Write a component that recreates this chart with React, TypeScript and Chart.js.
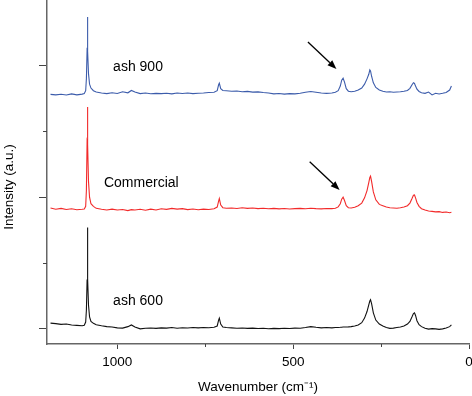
import React, { useEffect, useRef } from "react";
import { Chart, registerables } from "chart.js";

Chart.register(...registerables);

// Raman shift (cm-1), shared by all three spectra
const WAVENUMBER = [
  1190, 1175, 1160, 1145, 1130, 1115, 1100, 1094, 1090, 1088,
  1086, 1085, 1084, 1082, 1079, 1075, 1068, 1060, 1045, 1030,
  1015, 1000, 985, 970, 960, 950, 935, 920, 905, 890,
  875, 860, 845, 830, 815, 800, 785, 770, 755, 740,
  725, 716, 712, 710, 706, 700, 690, 675, 660, 645,
  630, 615, 600, 585, 570, 555, 540, 525, 510, 495,
  480, 465, 450, 435, 420, 405, 390, 380, 372, 366,
  362, 358, 354, 349, 343, 335, 325, 315, 305, 297,
  290, 285, 282, 280, 277, 272, 265, 255, 245, 235,
  225, 215, 205, 195, 185, 175, 168, 162, 158, 155,
  152, 148, 142, 135, 125, 115, 105, 95, 85, 75,
  65, 55, 50,
];

// Raw intensities (a.u.) before vertical offset
const ASH_600 = [
  4.2, 3.8, 3.2, 3.5, 2.8, 2.5, 2.2, 2.6, 5, 14,
  37, 77, 38, 18, 9, 5.5, 4, 3, 2.2, 1.5,
  1.2, 0.6, 0.4, 1.5, 2.8, 1.2, -0.2, 0.3, 0.5, 0.2,
  0.6, 0.4, 0.8, 0.3, 0.7, 0.5, 0.9, 0.6, 0.8, 0.7,
  1.0, 2.0, 6.5, 8, 3.5, 1.2, 0.8, 0.6, 0.3, 0.5,
  0.2, 0.4, 0.1, 0.3, -0.1, 0.2, 0.0, 0.3, 0.1, 0.4,
  0.3, 0.8, 1.5, 1.0, 0.6, 0.8, 0.6, 0.8, 0.9, 1.0,
  1.1, 1.2, 1.2, 1.2, 1.3, 1.5, 2.0, 2.8, 4.5, 8,
  13, 18, 21, 22, 19, 12, 6.5, 3.5, 2.0, 0.8,
  0.2, 0.4, 0.8, 1.2, 2.0, 3.5, 5.5, 9, 11.5, 12,
  10, 6, 3, 1.5, 0.3, -0.4, 0.0, -0.2, -0.6, -0.2,
  0.4, 1.5, 2.8,
];

const COMMERCIAL = [
  1.8, 0.8, 1.5, 0.6, 1.2, 0.4, 0.8, 1.0, 3, 15,
  52, 78.6, 50, 22, 10, 5, 3, 1.5, 0.8, 0.3,
  0.9, 0.2, 0.6, -0.2, 0.5, 0.2, 0.8, 0.1, 0.9, 0.3,
  1.2, 0.7, 1.5, 0.9, 1.3, 0.5, 1.0, 0.4, 0.9, 0.6,
  1.2, 2.5, 7, 9, 4, 2, 1.6, 1.8, 1.4, 1.9,
  1.5, 1.8, 1.3, 1.6, 1.2, 1.5, 1.1, 1.4, 1.0, 1.3,
  1.5, 1.2, 1.6, 1.3, 1.1, 1.4, 1.3, 1.6, 2.6, 5.0,
  8.5, 10, 7.5, 3.5, 2.0, 1.8, 2.4, 3.5, 5.5, 9.5,
  15, 21, 25, 26, 22, 14, 8, 4.5, 3.5, 2.5,
  2.0, 1.8, 1.6, 2.0, 2.5, 3.5, 5.5, 9, 11.5, 11.7,
  9.5, 6, 3, 1.2, 0.3, -0.5, -0.8, -1.2, -1.0, -1.6,
  -1.3, -1.8, -1.5,
];

const ASH_900 = [
  0.2, -0.2, 0.3, -0.3, 0.6, -0.2, 0.4, 0.8, 3, 12,
  34, 59, 33, 16, 8, 5, 3, 2, 1.2, 0.8,
  1.4, 0.9, 2.2, 1.4, 3.2, 2.0, 0.8, 1.2, 0.7, 1.0,
  0.8, 1.1, 0.6, 1.3, 0.9, 1.2, 0.8, 1.1, 1.3, 1.6,
  1.8, 3.0, 7.5, 8.7, 4.5, 3.2, 3.0, 2.6, 2.8, 2.2,
  2.5, 1.9, 2.1, 1.6, 1.2, 0.6, 0.9, 0.4, 0.8, 0.6,
  1.0, 1.8, 2.4, 1.8, 1.2, 1.0, 1.3, 1.8, 3.0, 6.5,
  11, 12.5, 9.5, 4.5, 2.6, 2.2, 2.6, 3.5, 5.0, 8.0,
  12, 15.5, 18.8, 18, 14, 9, 5.5, 3.5, 2.6, 2.0,
  2.2, 1.8, 2.0, 2.2, 2.6, 3.2, 4.8, 7.5, 9.1, 8.5,
  6.5, 4.2, 2.4, 1.5, 1.0, 2.0, -0.2, 1.0, 0.5, 1.0,
  1.6, 3.5, 6.6,
];

const SERIES_NAMES = ["ash 600", "Commercial", "ash 900"];
const SERIES_OFFSETS = [0, 90, 178];
const SERIES_COLORS = ["#111111", "#f22a2a", "#3c5cab"];

// Label anchors (wavenumber, intensity) — left/middle of text
const LABEL_X = [1012, 1038, 1012];
const LABEL_Y = [21, 111, 199];

// Arrows pointing to the ~360 cm-1 band (from -> to, in data units)
const ARROW_FROM_X = [458, 453];
const ARROW_FROM_Y = [218, 127];
const ARROW_TO_X = [377, 368];
const ARROW_TO_Y = [197.5, 105.5];

const X_MIN = 0;
const X_MAX = 1200;
const X_TICKS = [1000, 500, 0];
const X_MINOR = [750, 250];
const Y_MIN = -11.7;
const Y_MAX = 250;
const Y_TICKS = [0, 100, 200];
const Y_MINOR = [50, 150];

const FONT = "'Liberation Sans', Arial, Helvetica, sans-serif";
const AXIS_COLOR = "#666666";

const overlayPlugin = {
  id: "overlay",
  afterDraw(chart: any) {
    const { ctx, chartArea, scales } = chart;
    const xs = scales.x;
    const ys = scales.y;
    ctx.save();
    // minor ticks
    ctx.strokeStyle = "#444";
    ctx.lineWidth = 1;
    ctx.beginPath();
    X_MINOR.forEach((v) => {
      const px = Math.round(xs.getPixelForValue(v)) + 0.5;
      ctx.moveTo(px, chartArea.bottom);
      ctx.lineTo(px, chartArea.bottom + 3);
    });
    Y_MINOR.forEach((v) => {
      const py = Math.round(ys.getPixelForValue(v)) + 0.5;
      ctx.moveTo(chartArea.left - 4, py);
      ctx.lineTo(chartArea.left, py);
    });
    ctx.stroke();

    // series labels
    ctx.fillStyle = "#000";
    ctx.font = `14px ${FONT}`;
    ctx.textAlign = "left";
    ctx.textBaseline = "middle";
    SERIES_NAMES.forEach((name, i) => {
      ctx.fillText(name, xs.getPixelForValue(LABEL_X[i]), ys.getPixelForValue(LABEL_Y[i]));
    });

    // arrows
    ctx.strokeStyle = "#000";
    ctx.fillStyle = "#000";
    ctx.lineWidth = 1.3;
    ARROW_FROM_X.forEach((_, i) => {
      const x1 = xs.getPixelForValue(ARROW_FROM_X[i]);
      const y1 = ys.getPixelForValue(ARROW_FROM_Y[i]);
      const x2 = xs.getPixelForValue(ARROW_TO_X[i]);
      const y2 = ys.getPixelForValue(ARROW_TO_Y[i]);
      const ang = Math.atan2(y2 - y1, x2 - x1);
      const head = 9;
      const half = 3.5;
      const bx = x2 - head * Math.cos(ang);
      const by = y2 - head * Math.sin(ang);
      ctx.beginPath();
      ctx.moveTo(x1, y1);
      ctx.lineTo(bx, by);
      ctx.stroke();
      ctx.beginPath();
      ctx.moveTo(x2, y2);
      ctx.lineTo(bx + half * Math.sin(ang), by - half * Math.cos(ang));
      ctx.lineTo(bx - half * Math.sin(ang), by + half * Math.cos(ang));
      ctx.closePath();
      ctx.fill();
    });

    // y axis title
    ctx.save();
    ctx.translate(9.5, 187);
    ctx.rotate(-Math.PI / 2);
    ctx.font = `13.5px ${FONT}`;
    ctx.textAlign = "center";
    ctx.textBaseline = "middle";
    ctx.fillStyle = "#000";
    ctx.fillText("Intensity (a.u.)", 0, 0);
    ctx.restore();
    ctx.restore();
  },
};

export default function App() {
  const canvasRef = useRef<HTMLCanvasElement | null>(null);

  useEffect(() => {
    if (!canvasRef.current) return;
    const seriesValues = [ASH_600, COMMERCIAL, ASH_900];
    const datasets = seriesValues.map((vals, s) => ({
      label: SERIES_NAMES[s],
      data: WAVENUMBER.map((x, i) => ({ x, y: vals[i] + SERIES_OFFSETS[s] })),
      borderColor: SERIES_COLORS[s],
      borderWidth: 1.1,
      pointRadius: 0,
      tension: 0,
      fill: false,
    }));

    const chart = new Chart(canvasRef.current, {
      type: "line",
      data: { datasets },
      plugins: [overlayPlugin],
      options: {
        animation: false,
        responsive: false,
        maintainAspectRatio: false,
        layout: { padding: { left: 0, right: 3, top: 0, bottom: 0 } },
        font: { family: FONT, size: 13.5 },
        plugins: {
          legend: { display: false },
          tooltip: { enabled: false },
        },
        scales: {
          x: {
            type: "linear",
            reverse: true,
            min: X_MIN,
            max: X_MAX,
            border: { display: true, color: AXIS_COLOR, width: 1.5 },
            grid: {
              display: true,
              drawOnChartArea: false,
              drawTicks: true,
              tickLength: 5,
              tickColor: "#444",
              tickWidth: 1,
            },
            afterBuildTicks: (s: any) => {
              s.ticks = X_TICKS.map((v) => ({ value: v }));
            },
            ticks: {
              maxRotation: 0,
              autoSkip: false,
              padding: 5,
              color: "#000",
              font: { family: FONT, size: 13.5 },
              callback: (v: any) => String(v),
            },
            title: {
              display: true,
              text: "Wavenumber (cm⁻¹)",
              color: "#000",
              font: { family: FONT, size: 13.5 },
              padding: { top: 0, bottom: 1 },
            },
            afterFit: (s: any) => {
              s.height = 52;
              s.paddingLeft = 0;
              s.paddingRight = 0;
            },
          },
          y: {
            type: "linear",
            min: Y_MIN,
            max: Y_MAX,
            border: { display: true, color: AXIS_COLOR, width: 1.5 },
            grid: {
              display: true,
              drawOnChartArea: false,
              drawTicks: true,
              tickLength: 8,
              tickColor: "#444",
              tickWidth: 1,
            },
            afterBuildTicks: (s: any) => {
              s.ticks = Y_TICKS.map((v) => ({ value: v }));
            },
            ticks: { display: false },
            afterFit: (s: any) => {
              s.width = 47;
              s.paddingTop = 0;
              s.paddingBottom = 0;
            },
          },
        },
      } as any,
    });
    return () => chart.destroy();
  }, []);

  return (
    <div style={{ position: "absolute", left: 0, top: 0, width: 472, height: 396 }}>
      <canvas ref={canvasRef} width={472} height={396} style={{ display: "block" }} />
    </div>
  );
}
